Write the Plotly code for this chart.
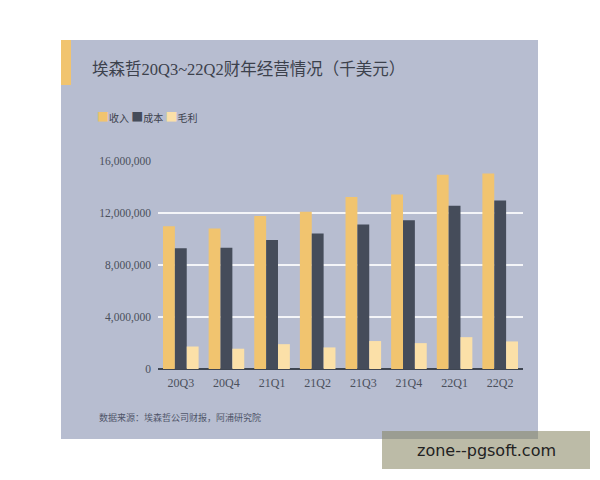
"""Accenture quarterly revenue, cost and gross profit, 20Q3-22Q2."""

import plotly.graph_objects as go

quarters = ["20Q3", "20Q4", "21Q1", "21Q2", "21Q3", "21Q4", "22Q1", "22Q2"]
revenue = [10990000, 10810000, 11760000, 12100000, 13240000, 13420000, 14950000, 15030000]
cost = [9280000, 9330000, 9920000, 10430000, 11120000, 11450000, 12550000, 12960000]
gross_profit = [1730000, 1560000, 1910000, 1660000, 2150000, 1990000, 2450000, 2120000]
series_names = ["收入", "成本", "毛利"]
y_ticks = [0, 4000000, 8000000, 12000000, 16000000]

colors = ["#f1c46f", "#454c5a", "#fbe0a8"]
panel_color = "#b7bdd0"
text_color = "#3c414c"

# plot area in page pixels, used to place the paper-space decorations
L, R, T, B = 158, 523, 161, 369
PAGE_OFFSET = 8  # default body margin of the html page


def px(x):
    return (x - L) / (R - L)


def py(y):
    return (B - y) / (B - T)


fig = go.Figure()
for name, values, color in zip(series_names, [revenue, cost, gross_profit], colors):
    fig.add_trace(
        go.Bar(x=quarters, y=values, name=name, marker=dict(color=color, line=dict(width=0)))
    )

# background panel, accent bar, watermark box
fig.add_shape(type="rect", xref="paper", yref="paper", layer="below",
              x0=px(61), x1=px(538), y0=py(439), y1=py(40),
              fillcolor=panel_color, line=dict(width=0))
fig.add_shape(type="rect", xref="paper", yref="paper", layer="below",
              x0=px(61), x1=px(71), y0=py(85), y1=py(40),
              fillcolor="#f1c46f", line=dict(width=0))
fig.add_shape(type="rect", xref="paper", yref="paper", layer="above",
              x0=px(382), x1=px(590), y0=py(469), y1=py(431),
              fillcolor="rgba(133,131,95,0.55)", line=dict(width=0))

legend_text = "&nbsp;".join(
    f"<span style='color:{c};font-size:12px'>■</span>{n}" for n, c in zip(series_names, colors)
)

fig.add_annotation(text="埃森哲20Q3~22Q2财年经营情况（千美元）", xref="paper", yref="paper",
                   x=px(90), y=py(69), xanchor="left", yanchor="middle", showarrow=False,
                   font=dict(family="Liberation Serif, Noto Sans CJK SC", size=16.5, color=text_color))
fig.add_annotation(text=legend_text, xref="paper", yref="paper",
                   x=px(95), y=py(116), xanchor="left", yanchor="middle", showarrow=False,
                   font=dict(family="Noto Sans CJK SC", size=10, color=text_color))
fig.add_annotation(text="数据来源：埃森哲公司财报，阿浦研究院", xref="paper", yref="paper",
                   x=px(97), y=py(417), xanchor="left", yanchor="middle", showarrow=False,
                   font=dict(family="Noto Sans CJK SC", size=9, color="#50566a"))
fig.add_annotation(text="zone--pgsoft.com", xref="paper", yref="paper",
                   x=px(486), y=py(450), xanchor="center", yanchor="middle", showarrow=False,
                   font=dict(family="DejaVu Sans", size=16, color="#222222"))

fig.update_layout(
    width=600,
    height=480,
    margin=dict(
        l=L - PAGE_OFFSET,
        r=600 - R + PAGE_OFFSET,
        t=T - PAGE_OFFSET,
        b=480 - B + PAGE_OFFSET,
    ),
    paper_bgcolor="white",
    plot_bgcolor="rgba(0,0,0,0)",
    showlegend=False,
    barmode="group",
    bargap=0.22,
    bargroupgap=0,
)
fig.update_xaxes(
    showgrid=False,
    showline=False,
    ticks="",
    ticklabelstandoff=5,
    tickfont=dict(family="Liberation Serif", size=12, color="#4b505c"),
)
fig.update_yaxes(
    range=[0, 16000000],
    tickvals=y_ticks,
    tickformat=",d",
    showgrid=True,
    gridcolor="rgba(255,255,255,0.85)",
    gridwidth=1.5,
    zeroline=True,
    zerolinecolor="#3f4652",
    zerolinewidth=1.5,
    showline=False,
    ticks="",
    ticklabelstandoff=6,
    tickfont=dict(family="Liberation Serif", size=11.5, color="#4b505c"),
)

fig.write_html("out.html")
